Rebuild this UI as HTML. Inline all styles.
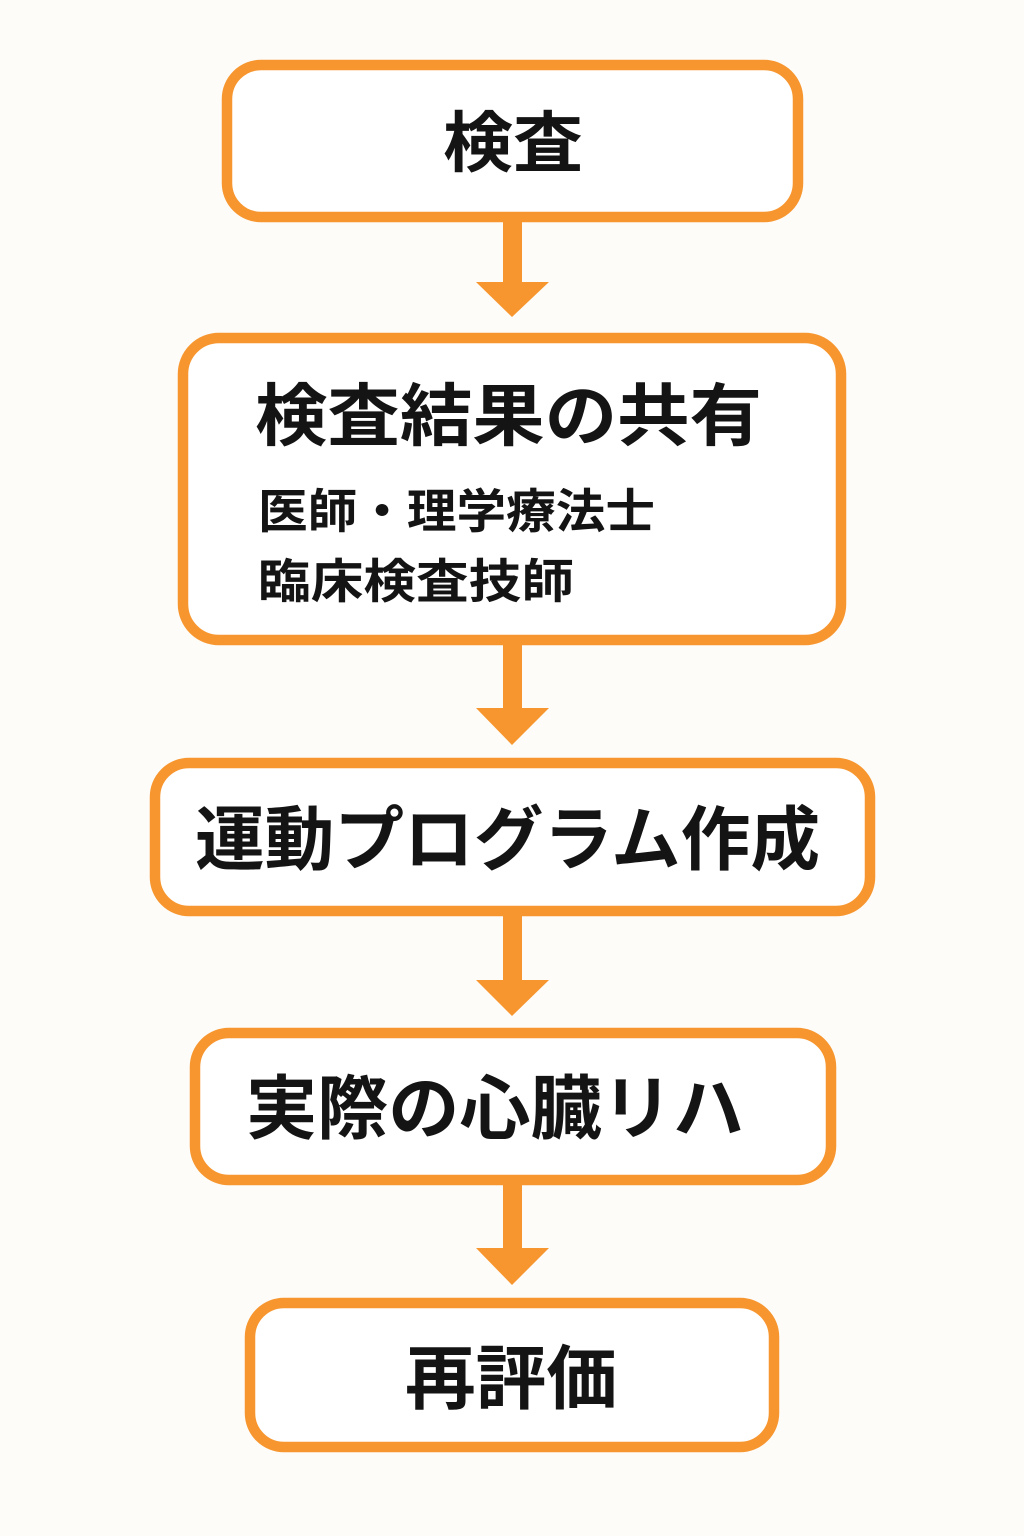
<!DOCTYPE html>
<html><head><meta charset="utf-8"><style>
html,body{margin:0;padding:0;background:#fdfcf9;}
svg{display:block}
text{font-family:"Liberation Sans","Noto Sans CJK JP",sans-serif;font-weight:bold;fill:#141414;}
</style></head><body>
<svg width="1024" height="1536" viewBox="0 0 1024 1536" xmlns="http://www.w3.org/2000/svg">
<rect width="1024" height="1536" fill="#fdfcf9"/>
<g fill="#fff" stroke="#f7962f" stroke-width="10.5">
<rect x="227" y="65" width="571" height="152" rx="34"/>
<rect x="183" y="338" width="658" height="302" rx="36"/>
<rect x="155" y="763" width="715" height="148" rx="34"/>
<rect x="195" y="1033" width="636" height="147" rx="34"/>
<rect x="250" y="1303" width="524" height="144" rx="34"/>
</g>
<g fill="#f7962f">
<rect x="503" y="222" width="19" height="62"/><polygon points="476,282 549,282 512,317"/>
<rect x="503" y="645" width="19" height="65"/><polygon points="476,708 549,708 512,745"/>
<rect x="503" y="916" width="19" height="66"/><polygon points="476,980 549,980 512,1016"/>
<rect x="503" y="1185" width="19" height="65"/><polygon points="476,1248 549,1248 512,1285"/>
</g>
<text x="443" y="166" font-size="66" textLength="140" lengthAdjust="spacingAndGlyphs">検査</text>
<text x="255" y="440" font-size="68" textLength="507" lengthAdjust="spacingAndGlyphs">検査結果の共有</text>
<text x="258" y="528" font-size="47" textLength="397" lengthAdjust="spacingAndGlyphs">医師・理学療法士</text>
<text x="258" y="598" font-size="47" textLength="316" lengthAdjust="spacingAndGlyphs">臨床検査技師</text>
<text x="195" y="864" font-size="70" textLength="625" lengthAdjust="spacingAndGlyphs">運動プログラム作成</text>
<text x="246" y="1133" font-size="70" textLength="498" lengthAdjust="spacingAndGlyphs">実際の心臓リハ</text>
<text x="405" y="1403" font-size="70" textLength="212" lengthAdjust="spacingAndGlyphs">再評価</text>
</svg>
</body></html>
